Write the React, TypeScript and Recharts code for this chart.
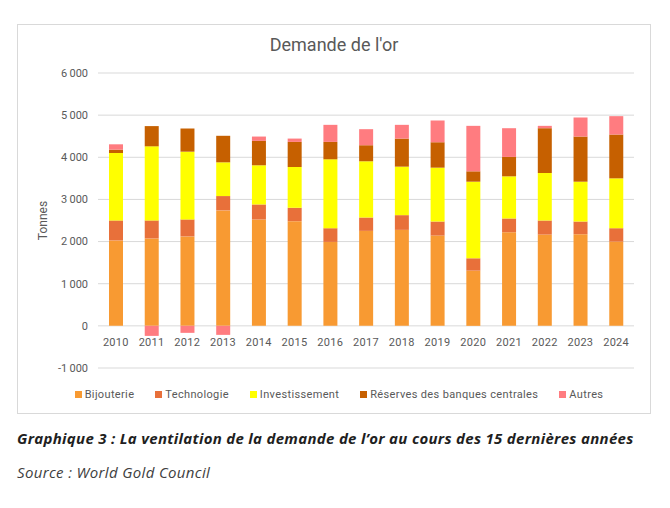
// Stacked bar chart: breakdown of gold demand, 2010-2024 (World Gold Council)
import React from "react"
import { Bar, BarChart, CartesianGrid, XAxis, YAxis } from "recharts"

const years = ["2010", "2011", "2012", "2013", "2014", "2015", "2016", "2017", "2018", "2019", "2020", "2021", "2022", "2023", "2024"]
const bijouterie = [2027, 2074, 2122, 2740, 2524, 2484, 1992, 2254, 2278, 2143, 1310, 2222, 2167, 2175, 2000]
const technologie = [475, 428, 404, 340, 357, 318, 325, 317, 349, 333, 293, 326, 333, 301, 317]
const investissement = [1600, 1758, 1607, 800, 929, 968, 1635, 1334, 1151, 1278, 1818, 1000, 1127, 945, 1183]
const reserves = [79, 480, 550, 630, 579, 595, 413, 381, 666, 603, 246, 460, 1063, 1071, 1040]
const autres = [127, -238, -166, -214, 103, 79, 405, 381, 326, 516, 1079, 682, 56, 452, 436]
const yTicks = [-1000, 0, 1000, 2000, 3000, 4000, 5000, 6000]

const series = [
  { key: "bijouterie", name: "Bijouterie", color: "#F89A32", values: bijouterie },
  { key: "technologie", name: "Technologie", color: "#E8703A", values: technologie },
  { key: "investissement", name: "Investissement", color: "#FFFF00", values: investissement },
  { key: "reserves", name: "Réserves des banques centrales", color: "#C66000", values: reserves },
  { key: "autres", name: "Autres", color: "#FF7C80", values: autres },
]

const data = years.map((year, i) => {
  const row: Record<string, number | string> = { year }
  series.forEach((s) => {
    row[s.key] = s.values[i]
  })
  return row
})

const font = "Roboto, 'Noto Sans', sans-serif"
const captionFont = "'Open Sans', Roboto, sans-serif"
const textGray = "#595959"

const formatTick = (v: number) => {
  const abs = Math.abs(v)
  const s = abs >= 1000 ? `${Math.floor(abs / 1000)}\u2009${String(abs % 1000).padStart(3, "0")}` : String(abs)
  return v < 0 ? `-${s}` : s
}

// year labels sit just under the zero line, not at the bottom of the plot
const YearTick = (props: any) => {
  const { x, y, payload } = props
  return (
    <text x={x} y={y - 26} textAnchor="middle" dominantBaseline="central" fill={textGray} fontSize={11} fontFamily={font} letterSpacing={0.3}>
      {payload.value}
    </text>
  )
}

export default function App() {
  return (
    <div style={{ position: "absolute", left: 0, top: 0, width: 670, height: 508, background: "#fff", fontFamily: font }}>
      <div
        style={{
          position: "absolute",
          left: 17,
          top: 24,
          width: 632,
          height: 388,
          border: "1px solid #d9d9d9",
        }}
      >
        <div
          style={{
            position: "absolute",
            left: 0,
            top: 9,
            width: "100%",
            textAlign: "center",
            fontSize: 18,
            color: textGray,
          }}
        >
          Demande de l'or
        </div>
        <BarChart
          width={632}
          height={388}
          data={data}
          stackOffset="sign"
          margin={{ top: 48, right: 16, bottom: 25, left: 0 }}
        >
          <CartesianGrid vertical={false} stroke="#d9d9d9" />
          <XAxis
            dataKey="year"
            height={20}
            axisLine={false}
            tickLine={false}
            tickSize={0}
            tickMargin={0}
            tick={<YearTick />}
            interval={0}
          />
          <YAxis
            width={80}
            domain={[-1000, 6000]}
            ticks={yTicks}
            tickFormatter={formatTick}
            axisLine={false}
            tickLine={false}
            tickSize={0}
            tickMargin={10}
            tick={{ fill: textGray, fontSize: 11, fontFamily: font }}
            label={{
              value: "Tonnes",
              angle: -90,
              position: "insideLeft",
              offset: 25,
              style: { textAnchor: "middle", fill: textGray, fontSize: 12, fontFamily: font },
            }}
          />
          {series.map((s) => (
            <Bar key={s.key} dataKey={s.key} name={s.name} stackId="a" fill={s.color} barSize={14} isAnimationActive={false} />
          ))}
        </BarChart>
        <div
          style={{
            position: "absolute",
            left: 10,
            top: 363,
            width: 622,
            display: "flex",
            justifyContent: "center",
            gap: 21,
            fontSize: 11,
            letterSpacing: 0.35,
            color: textGray,
          }}
        >
          {series.map((s) => (
            <div key={s.key} style={{ display: "flex", alignItems: "center" }}>
              <span style={{ display: "inline-block", width: 7, height: 7, background: s.color, marginRight: 3 }} />
              {s.name}
            </div>
          ))}
        </div>
      </div>
      <div
        style={{
          position: "absolute",
          left: 17,
          top: 428,
          fontSize: 15,
          letterSpacing: 0.3,
          fontWeight: "bold",
          fontStyle: "italic",
          fontFamily: captionFont,
          color: "#1f1f1f",
        }}
      >
        Graphique 3 : La ventilation de la demande de l’or au cours des 15 dernières années
      </div>
      <div
        style={{
          position: "absolute",
          left: 17,
          top: 462,
          fontSize: 15,
          letterSpacing: 0.35,
          fontStyle: "italic",
          fontFamily: captionFont,
          color: "#404040",
        }}
      >
        Source : World Gold Council
      </div>
    </div>
  )
}
